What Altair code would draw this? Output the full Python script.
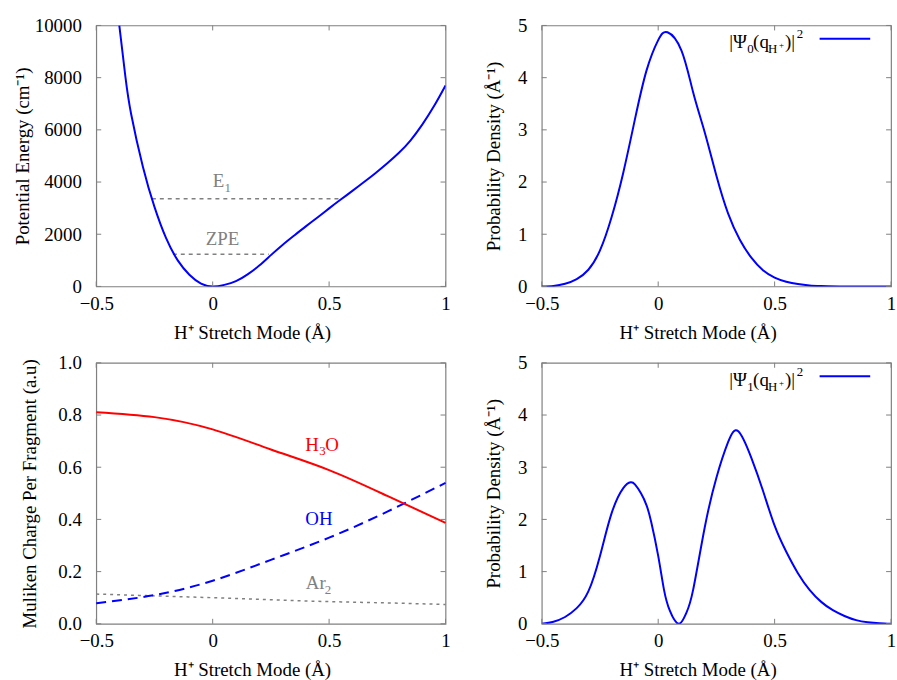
import altair as alt
import pandas as pd

# ---------------- data ----------------
# H+ stretch potential energy curve (cm^-1)
pot_q = [-0.401, -0.375, -0.35, -0.3, -0.25, -0.2, -0.15, -0.1, -0.05, 0.0,
         0.05, 0.1, 0.15, 0.2, 0.25, 0.3, 0.35, 0.4, 0.45, 0.5, 0.55, 0.6, 0.65,
         0.7, 0.75, 0.8, 0.85, 0.9, 0.95, 1.0]
pot_v = [10000, 8050, 6600, 4600, 3050, 1850, 1000, 450, 110, 0,
         60, 200, 460, 800, 1200, 1590, 1950, 2300, 2640, 2990, 3330, 3660, 4000,
         4350, 4720, 5120, 5600, 6200, 6900, 7700]

# vibrational levels (value, left turning point, right turning point)
level_names = ["ZPE", "E1"]
level_e = [1231, 3360]
level_q1 = [-0.171, -0.261]
level_q2 = [0.241, 0.554]

# ground state probability density
psi0_q = [-0.5, -0.45, -0.4, -0.35, -0.3, -0.25, -0.2, -0.15, -0.1, -0.05, 0.0, 0.04,
          0.1, 0.15, 0.2, 0.25, 0.3, 0.35, 0.4, 0.45, 0.5, 0.55, 0.6, 0.65, 0.7, 0.8, 0.9, 1.0]
psi0_d = [0.0, 0.01, 0.05, 0.14, 0.32, 0.69, 1.33, 2.18, 3.2, 4.14, 4.72, 4.87,
          4.52, 3.72, 2.95, 2.12, 1.4, 0.9, 0.55, 0.31, 0.17, 0.09, 0.045, 0.02, 0.01, 0.0, 0.0, 0.0]

# first excited state probability density
psi1_q = [-0.5, -0.45, -0.4, -0.35, -0.3, -0.25, -0.2, -0.15, -0.118, -0.1, -0.074, -0.05,
          -0.03, 0.0, 0.025, 0.05, 0.088, 0.12, 0.15, 0.2, 0.25, 0.3, 0.344, 0.4, 0.45,
          0.5, 0.55, 0.6, 0.65, 0.7, 0.75, 0.8, 0.85, 0.9, 0.95, 1.0]
psi1_d = [0.0, 0.04, 0.13, 0.3, 0.62, 1.3, 2.12, 2.6, 2.71, 2.67, 2.5, 2.27,
          1.95, 1.3, 0.65, 0.25, 0.0, 0.2, 0.65, 1.85, 2.8, 3.48, 3.69, 3.18, 2.55,
          1.88, 1.38, 0.97, 0.65, 0.42, 0.26, 0.15, 0.07, 0.03, 0.01, 0.0]

# Mulliken charges per fragment
chg_q = [-0.5, -0.25, 0.0, 0.25, 0.5, 0.75, 1.0]
chg_h3o = [0.811, 0.792, 0.745, 0.668, 0.589, 0.49, 0.387]
chg_oh = [0.079, 0.11, 0.165, 0.245, 0.33, 0.43, 0.54]
chg_ar2 = [0.114, 0.107, 0.1, 0.092, 0.085, 0.08, 0.074]

x_ticks = [-0.5, 0, 0.5, 1]
pot_ticks = [0, 2000, 4000, 6000, 8000, 10000]
dens_ticks = [0, 1, 2, 3, 4, 5]
chg_ticks = [0.0, 0.2, 0.4, 0.6, 0.8, 1.0]

# ---------------- style ----------------
FONT = "Liberation Serif, Times New Roman, serif"
FS = 19
W, H = 352, 263
FRAME = "#808080"
BLUE = "#0000ff"
RED = "#ff0000"
GRAY = "#808080"
X_TITLE = "H⁺ Stretch Mode (Å)"
XDOM = [-0.5, 1]
CURVE = "natural"


class Panel:
    """Shared x/y scales and axes for all layers of one panel."""

    def __init__(self, ydom, yticks, yfmt, ytitle, ytitle_x):
        self.ydom = ydom
        self.yticks = yticks
        self.xaxis = alt.Axis(values=x_ticks, format="~g", title=X_TITLE, labelPadding=8,
                              labelFlush=False, titleX=157, titleY=52,
                              titleBaseline="alphabetic", titleAlign="center")
        self.yaxis = alt.Axis(values=yticks, format=yfmt, title=ytitle, labelPadding=15,
                              titleX=ytitle_x, titleY=H / 2, titleAngle=270,
                              titleAlign="center", titleBaseline="middle")

    def x(self, field):
        return alt.X(field, type="quantitative", scale=alt.Scale(domain=XDOM), axis=self.xaxis)

    def y(self, field):
        return alt.Y(field, type="quantitative", scale=alt.Scale(domain=self.ydom),
                     axis=self.yaxis)

    def inner_ticks(self):
        xt = pd.DataFrame({"q": x_ticks})
        yt = pd.DataFrame({"v": self.yticks})
        rule = dict(color=FRAME, strokeWidth=1)
        return [
            alt.Chart(xt).mark_rule(**rule).encode(x=self.x("q"), y=alt.value(H), y2=alt.value(H - 5)),
            alt.Chart(xt).mark_rule(**rule).encode(x=self.x("q"), y=alt.value(0), y2=alt.value(5)),
            alt.Chart(yt).mark_rule(**rule).encode(y=self.y("v"), x=alt.value(0), x2=alt.value(5)),
            alt.Chart(yt).mark_rule(**rule).encode(y=self.y("v"), x=alt.value(W - 5), x2=alt.value(W)),
        ]

    def label(self, qx, val, pieces, color):
        """Text with subscripts built from pieces (text, size, dx, dy)."""
        df = pd.DataFrame({"q": [qx], "v": [val]})
        return [
            alt.Chart(df).mark_text(
                text=txt, font=FONT, fontSize=size, color=color, align="left",
                baseline="alphabetic", dx=dx, dy=dy
            ).encode(x=self.x("q"), y=self.y("v"))
            for txt, size, dx, dy in pieces
        ]


def psi_legend(index):
    pieces = [("|Ψ", 19, 189, 23), (index, 13, 207, 28), ("(q", 19, 213, 23),
              ("H", 13, 228, 28), ("+", 9, 239, 23), (")|", 19, 245, 23), ("2", 13, 257, 13)]
    out = []
    for txt, size, px, py in pieces:
        out.append(
            alt.Chart(pd.DataFrame({"k": [0]})).mark_text(
                text=txt, font=FONT, fontSize=size, color="black", align="left",
                baseline="alphabetic"
            ).encode(x=alt.value(px), y=alt.value(py))
        )
    out.append(
        alt.Chart(pd.DataFrame({"k": [0]})).mark_rule(color=BLUE, strokeWidth=2).encode(
            x=alt.value(280), x2=alt.value(331), y=alt.value(13.5)
        )
    )
    return out


# ---------------- panel: potential energy ----------------
P = Panel([0, 10000], pot_ticks, "d", "Potential Energy (cm⁻¹)", -74)
pot_df = pd.DataFrame({"q": pot_q, "v": pot_v})
lev_df = pd.DataFrame({"name": level_names, "v": level_e, "q": level_q1, "q2": level_q2})

pot_panel = alt.layer(
    alt.Chart(lev_df).mark_rule(color=GRAY, strokeWidth=1.5, strokeDash=[4, 4]).encode(
        x=P.x("q"), x2="q2:Q", y=P.y("v")),
    alt.Chart(pot_df).mark_line(color=BLUE, strokeWidth=2, interpolate=CURVE, clip=True).encode(
        x=P.x("q"), y=P.y("v")),
    *P.inner_ticks(),
    *P.label(-0.03, 1585, [("ZPE", FS, 0, 0)], GRAY),
    *P.label(0.0, 3800, [("E", FS, 0, 0), ("1", 13, 12, 5)], GRAY),
).properties(width=W, height=H)

# ---------------- panel: ground state density ----------------
D0 = Panel([0, 5], dens_ticks, "d", "Probability Density (Å⁻¹)", -49)
psi0_panel = alt.layer(
    alt.Chart(pd.DataFrame({"q": psi0_q, "v": psi0_d})).mark_line(
        color=BLUE, strokeWidth=2, interpolate=CURVE, clip=True
    ).encode(x=D0.x("q"), y=D0.y("v")),
    *D0.inner_ticks(),
    *psi_legend("0"),
).properties(width=W, height=H)

# ---------------- panel: Mulliken charges ----------------
C = Panel([0, 1], chg_ticks, ".1f", "Muliken Charge Per Fragment (a.u)", -67)
chg_df = pd.DataFrame({"q": chg_q, "h3o": chg_h3o, "oh": chg_oh, "ar2": chg_ar2})
chg_base = alt.Chart(chg_df)
chg_panel = alt.layer(
    chg_base.mark_line(color=GRAY, strokeWidth=1.5, strokeDash=[3, 4],
                       interpolate=CURVE).encode(x=C.x("q"), y=C.y("ar2")),
    chg_base.mark_line(color=BLUE, strokeWidth=2, strokeDash=[10, 6],
                       interpolate=CURVE).encode(x=C.x("q"), y=C.y("oh")),
    chg_base.mark_line(color=RED, strokeWidth=2, interpolate=CURVE).encode(
        x=C.x("q"), y=C.y("h3o")),
    *C.inner_ticks(),
    *C.label(0.398, 0.664, [("H", FS, 0, 0), ("3", 13, 14, 5), ("O", FS, 20, 0)], RED),
    *C.label(0.398, 0.379, [("OH", FS, 0, 0)], BLUE),
    *C.label(0.4, 0.132, [("Ar", FS, 0, 0), ("2", 13, 19, 5)], GRAY),
).properties(width=W, height=H)

# ---------------- panel: first excited state density ----------------
D1 = Panel([0, 5], dens_ticks, "d", "Probability Density (Å⁻¹)", -49)
psi1_panel = alt.layer(
    alt.Chart(pd.DataFrame({"q": psi1_q, "v": psi1_d})).mark_line(
        color=BLUE, strokeWidth=2, interpolate=CURVE, clip=True
    ).encode(x=D1.x("q"), y=D1.y("v")),
    *D1.inner_ticks(),
    *psi_legend("1"),
).properties(width=W, height=H)

chart = alt.concat(
    pot_panel, psi0_panel, chg_panel, psi1_panel,
    columns=2, spacing={"row": 10, "column": 32}, align="each", bounds="full",
).properties(
    padding={"left": 13, "top": 13, "right": 0, "bottom": 0},
    background="white",
).configure_view(
    stroke=FRAME, strokeWidth=1.2
).configure_axis(
    labelFont=FONT, labelFontSize=FS, labelColor="black",
    titleFont=FONT, titleFontSize=FS, titleFontWeight="normal", titleColor="black",
    domain=False, ticks=False, grid=False,
)

chart.save("out.html", embed_options={"renderer": "svg", "actions": False})
